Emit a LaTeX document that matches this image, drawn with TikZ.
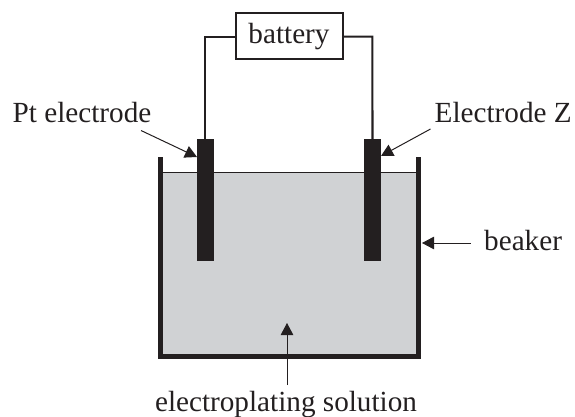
\documentclass[tikz,border=0pt]{standalone}
\usepackage{fontspec}
\setmainfont{Liberation Serif}
\usetikzlibrary{arrows.meta}
\definecolor{soln}{RGB}{208,210,212}
\definecolor{elec}{RGB}{35,31,32}
\begin{document}
\begin{tikzpicture}[x=1pt,y=-1pt,
 lab/.style={inner sep=0pt,font=\fontsize{29.2}{32}\selectfont,text=elec},
 wire/.style={draw=elec,line width=2.1pt},
 arr/.style={draw=elec,line width=1pt,-{Triangle[length=12pt,width=12.5pt]}}]
\useasboundingbox (0,0) rectangle (575,417);
\fill[soln] (161,172) rectangle (418,357);
\draw[elec,line width=1.6pt] (161,172.3) -- (418,172.3);
\draw[elec,line width=5pt,line join=miter] (160.7,157) -- (160.7,356.8) -- (418.2,356.8) -- (418.2,157);
\node[fill=elec,minimum width=16.8pt,minimum height=122pt,inner sep=0pt,anchor=north] (pt) at (205.4,139) {};
\node[fill=elec,minimum width=17pt,minimum height=122pt,inner sep=0pt,anchor=north] (z) at (372.5,139) {};
\node[draw=elec,line width=2pt,fill=white,minimum width=106.5pt,minimum height=45.5pt,inner sep=0pt] (bat) at (289.5,36) {};
\node[lab,anchor=base] (batl) at (289,44) {battery};
\draw[wire] (bat.west |- 0,36.7) -- (205.4,36.7) -- (pt.north);
\draw[wire] (bat.east |- 0,36.7) -- (372.3,36.7) -- (z.north);
\node[lab,anchor=base west] (ptl) at (12.5,123) {Pt electrode};
\node[lab,anchor=base west] (zl) at (434.5,123) {Electrode Z};
\node[lab,anchor=base west] (bl) at (484,250.5) {beaker};
\node[lab,anchor=base] (sl) at (286,411.5) {electroplating solution};
\coordinate (a1) at (141,130.5); \coordinate (a1e) at (197,157);
\coordinate (a2) at (430.5,129); \coordinate (a2e) at (381,156);
\coordinate (a3) at (470.5,243); \coordinate (a3e) at (422,243);
\coordinate (a4) at (287,385); \coordinate (a4e) at (287,323);
\draw[arr] (a1) -- (a1e);
\draw[arr] (a2) -- (a2e);
\draw[arr] (a3) -- (a3e);
\draw[arr] (a4) -- (a4e);
\end{tikzpicture}
\end{document}
